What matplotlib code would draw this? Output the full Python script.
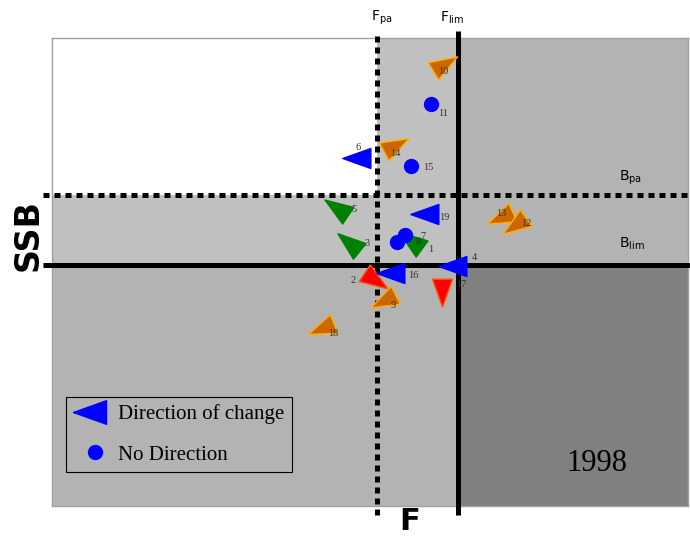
import numpy as np
import matplotlib
matplotlib.use("Agg")
import matplotlib.pyplot as plt
from matplotlib.markers import MarkerStyle
from matplotlib.path import Path
from matplotlib.patches import Rectangle
from matplotlib.lines import Line2D
from matplotlib.transforms import Affine2D

# Reference points (F relative to Flim, SSB relative to Blim)
F_PA, F_LIM = 0.80, 1.00
B_PA, B_LIM = 1.29, 1.00
F_MAX, SSB_MAX = 1.566, 1.942

# Stocks with a direction of change (triangles); angle = direction of the tip in degrees
tri_labels = ["10", "14", "6", "5", "19", "3", "1", "4", "2", "16", "9", "17", "18", "13", "12"]
tri_f = [0.958, 0.837, 0.761, 0.709, 0.929, 0.739, 0.892, 0.998, 0.788, 0.845, 0.825, 0.961, 0.672, 1.113, 1.148]
tri_ssb = [1.826, 1.490, 1.444, 1.228, 1.212, 1.083, 1.091, 0.996, 0.946, 0.967, 0.859, 0.905, 0.743, 1.203, 1.174]
tri_angle = [31, 28, 180, 146, 180, 141, 144, 180, -34, 180, 207, -90, 202, 204, 215]
tri_kind = ["orange", "orange", "blue", "green", "blue", "green", "green", "blue",
            "red", "blue", "orange", "red", "orange", "orange", "orange"]

# Stocks with no direction (circles)
dot_labels = ["11", "15", "7", "8"]
dot_f = [0.933, 0.884, 0.869, 0.850]
dot_ssb = [1.668, 1.411, 1.124, 1.095]

# label offsets in pixels (dx right, dy down)
tri_off = [(2, 6), (3, 7), (-3, -11), (14, -1), (15, 4), (15, -2), (16, 6), (17, -8),
           (-19, 2), (18, 3), (6, 7), (19, -3), (8, 7), (-3, -3), (8, 0)]
dot_off = [(12, 9), (17, 2), (18, 1), (21, -1)]

fills = {"orange": "#cc6600", "blue": "#0000ff", "green": "#008000", "red": "#ff0000"}
edges = {"orange": "#ffb000", "blue": "#0000ff", "green": "#008000", "red": "#ff5500"}

fig = plt.figure(figsize=(6.9, 5.37), dpi=100)
ax = fig.add_axes([52 / 690, 31 / 537, 636 / 690, 468 / 537])
ax.set_xlim(0, F_MAX)
ax.set_ylim(0, SSB_MAX)
ax.set_xticks([])
ax.set_yticks([])
ax.set_facecolor("#b3b3b3")
for s in ax.spines.values():
    s.set_color("#a0a0a0")
    s.set_linewidth(1)

# zones
ax.add_patch(Rectangle((0, B_LIM), F_LIM, SSB_MAX - B_LIM, color="#c0c0c0", lw=0, zorder=0.5))
ax.add_patch(Rectangle((0, B_PA), F_PA, SSB_MAX - B_PA, color="white", lw=0, zorder=0.6))
ax.add_patch(Rectangle((F_LIM, 0), F_MAX - F_LIM, B_LIM, color="#808080", lw=0, zorder=0.6))

# reference lines
lw = 3.6
dots = (0, (1.2, 1.0))
ax.plot([F_PA, F_PA], [-0.037, 1.971], color="black", lw=lw, ls=dots, clip_on=False, zorder=3)
ax.plot([F_LIM, F_LIM], [-0.037, 1.971], color="black", lw=lw, clip_on=False, zorder=3,
        solid_capstyle="butt")
ax.plot([-0.022, 1.571], [B_PA, B_PA], color="black", lw=lw, ls=dots, clip_on=False, zorder=3)
ax.plot([-0.022, 1.571], [B_LIM, B_LIM], color="black", lw=lw, clip_on=False, zorder=3,
        solid_capstyle="butt")

# arrowhead marker, centroid at origin, tip pointing along +x
L, W = 28.0, 20.0
arrow = Path([(2 * L / 3, 0), (-L / 3, W / 2), (-L / 3, -W / 2), (2 * L / 3, 0)],
             [Path.MOVETO, Path.LINETO, Path.LINETO, Path.CLOSEPOLY])
msize = 2 * (2 * L / 3) * 72 / 100

for i in range(len(tri_labels)):
    m = MarkerStyle(arrow, transform=Affine2D().rotate_deg(tri_angle[i]))
    k = tri_kind[i]
    ax.plot(tri_f[i], tri_ssb[i], marker=m, markersize=msize, ls="none",
            mfc=fills[k], mec=edges[k], mew=1.0, zorder=4)
    dx, dy = tri_off[i]
    ax.annotate(tri_labels[i], (tri_f[i], tri_ssb[i]), xytext=(dx * 0.72, -dy * 0.72),
                textcoords="offset points", ha="center", va="center",
                fontsize=7.5, family="Liberation Serif", color="#333333", zorder=5)

for i in range(len(dot_labels)):
    ax.plot(dot_f[i], dot_ssb[i], marker="o", markersize=10, ls="none",
            mfc="#0000ff", mec="#0000ff", zorder=4)
    dx, dy = dot_off[i]
    ax.annotate(dot_labels[i], (dot_f[i], dot_ssb[i]), xytext=(dx * 0.72, -dy * 0.72),
                textcoords="offset points", ha="center", va="center",
                fontsize=7.5, family="Liberation Serif", color="#333333", zorder=5)

# reference point names
ax.text(0.786, 2.025, r"F$_{\mathregular{pa}}$", fontsize=10, ha="left", va="center", clip_on=False)
ax.text(0.955, 2.025, r"F$_{\mathregular{lim}}$", fontsize=10, ha="left", va="center", clip_on=False)
ax.text(1.397, 1.36, r"B$_{\mathregular{pa}}$", fontsize=10, ha="left", va="center")
ax.text(1.397, 1.086, r"B$_{\mathregular{lim}}$", fontsize=10, ha="left", va="center")
ax.text(1.342, 0.178, "1998", fontsize=22, family="Liberation Serif", ha="center", va="center")

fig.text(28 / 690, 1 - 235 / 537, "SSB", fontsize=24, fontweight="bold", rotation=90,
         ha="center", va="center")
fig.text(410 / 690, 1 - 521 / 537, "F", fontsize=22, fontweight="bold", ha="center", va="center")

left_ms = MarkerStyle(arrow, transform=Affine2D().rotate_deg(180))
handles = [Line2D([], [], marker=left_ms, markersize=msize * 1.18, ls="none",
                  mfc="#0000ff", mec="#0000ff"),
           Line2D([], [], marker="o", markersize=10, ls="none", mfc="#0000ff", mec="#0000ff")]
leg = ax.legend(handles, ["Direction of change", "No Direction"], loc="upper left",
                bbox_to_anchor=(14 / 636, 109 / 468), borderaxespad=0,
                prop={"family": "Liberation Serif", "size": 15}, fancybox=False,
                facecolor="#b3b3b3", edgecolor="black", framealpha=1,
                handlelength=2.05, labelspacing=1.0, borderpad=0.35, handletextpad=0.1)
leg.get_frame().set_linewidth(0.8)
leg.set_zorder(6)

fig.savefig("out.png", dpi=100)
